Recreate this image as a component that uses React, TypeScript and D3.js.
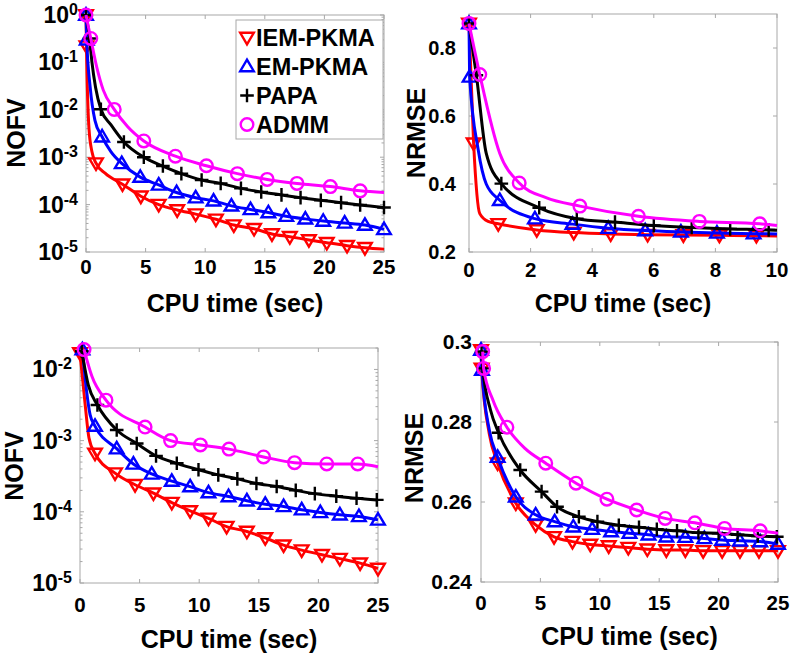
import * as d3 from 'd3'

type Pt = [number, number, number] // [cpu time, value, 1 = marker shown]

const NAMES = ['IEM-PKMA', 'EM-PKMA', 'PAPA', 'ADMM']
const COLORS = ['#ff0000', '#0000ff', '#000000', '#ff00ff']
const SHAPES = ['down', 'up', 'plus', 'circle']

// top-left: NOFV (log) vs CPU time
const nofvA_iem: Pt[] = [[0, 1, 1], [0.04, 0.22, 1], [0.25, 4e-3, 0], [0.5, 1.3e-3, 0], [0.84, 7.5e-4, 1], [1.6, 4.6e-4, 0], [3.06, 2.7e-4, 1], [4.6, 1.5e-4, 1], [6.1, 1.0e-4, 1], [7.65, 7.7e-5, 1], [9.2, 6.3e-5, 1], [10.9, 4.9e-5, 1], [12.4, 3.7e-5, 1], [14.1, 3.1e-5, 1], [15.6, 2.4e-5, 1], [17.1, 2.1e-5, 1], [18.7, 1.8e-5, 1], [20.2, 1.57e-5, 1], [21.9, 1.36e-5, 1], [23.4, 1.23e-5, 1], [25, 1.15e-5, 0]]
const nofvA_em: Pt[] = [[0, 1, 1], [0.06, 0.3, 1], [0.35, 0.03, 0], [0.75, 6e-3, 0], [1.35, 2.7e-3, 1], [2.1, 1.3e-3, 0], [3.0, 7.4e-4, 1], [4.55, 3.8e-4, 1], [6.1, 2.6e-4, 1], [7.6, 1.8e-4, 1], [9.2, 1.4e-4, 1], [10.7, 1.2e-4, 1], [12.2, 9.4e-5, 1], [13.8, 7.9e-5, 1], [15.3, 6.8e-5, 1], [16.8, 5.7e-5, 1], [18.4, 5.0e-5, 1], [19.9, 4.5e-5, 1], [21.7, 4.1e-5, 1], [23.4, 3.7e-5, 1], [25, 3.0e-5, 1]]
const nofvA_papa: Pt[] = [[0, 1, 1], [0.3, 0.32, 1], [0.5, 0.1, 0], [0.8, 0.03, 0], [1.25, 1.03e-2, 1], [2.1, 4.8e-3, 0], [3.18, 2.1e-3, 1], [4.85, 1.0e-3, 1], [6.45, 6.5e-4, 1], [8.0, 4.5e-4, 1], [9.7, 3.3e-4, 1], [11.3, 2.8e-4, 1], [13.0, 2.2e-4, 1], [14.7, 1.85e-4, 1], [16.4, 1.6e-4, 1], [18.0, 1.4e-4, 1], [19.7, 1.23e-4, 1], [21.4, 1.1e-4, 1], [23.0, 9.8e-5, 1], [25, 8.7e-5, 1]]
const nofvA_admm: Pt[] = [[0, 1, 1], [0.4, 0.32, 1], [0.9, 0.08, 0], [1.45, 0.026, 0], [2.37, 1.02e-2, 1], [3.5, 4.4e-3, 0], [4.85, 2.2e-3, 1], [7.5, 1.05e-3, 1], [10.1, 6.6e-4, 1], [12.7, 4.5e-4, 1], [15.2, 3.4e-4, 1], [17.7, 2.8e-4, 1], [20.5, 2.4e-4, 1], [23.0, 1.95e-4, 1], [25, 1.8e-4, 0]]

// top-right: NRMSE vs CPU time
const rmseB_iem: Pt[] = [[0, 0.872, 1], [0.15, 0.52, 1], [0.35, 0.313, 0], [0.62, 0.29, 0], [0.95, 0.283, 1], [2.2, 0.265, 1], [3.4, 0.257, 1], [4.6, 0.253, 1], [5.8, 0.251, 1], [6.96, 0.25, 1], [8.13, 0.249, 1], [9.33, 0.248, 1], [10, 0.247, 0]]
const rmseB_em: Pt[] = [[0, 0.872, 1], [0.02, 0.715, 1], [0.3, 0.5, 0], [0.56, 0.4, 0], [1.0, 0.352, 1], [2.14, 0.298, 1], [3.36, 0.282, 1], [4.52, 0.27, 1], [5.72, 0.263, 1], [6.88, 0.259, 1], [8.05, 0.256, 1], [9.24, 0.254, 1], [10, 0.253, 0]]
const rmseB_papa: Pt[] = [[0, 0.872, 1], [0.24, 0.72, 1], [0.56, 0.49, 0], [1.05, 0.401, 1], [2.28, 0.33, 1], [3.5, 0.298, 1], [4.74, 0.288, 1], [6.0, 0.278, 1], [7.23, 0.272, 1], [8.48, 0.268, 1], [9.73, 0.265, 1], [10, 0.264, 0]]
const rmseB_admm: Pt[] = [[0, 0.872, 1], [0.35, 0.722, 1], [1.0, 0.49, 0], [1.63, 0.403, 1], [2.5, 0.36, 0], [3.6, 0.335, 1], [5.5, 0.305, 1], [7.48, 0.29, 1], [9.44, 0.283, 1], [10, 0.278, 0]]

// bottom-left: NOFV (log) vs CPU time
const nofvC_iem: Pt[] = [[0, 0.017, 1], [0.45, 3e-3, 0], [0.75, 1.1e-3, 0], [1.26, 6.6e-4, 1], [2.94, 3.5e-4, 1], [4.62, 2.4e-4, 1], [6.16, 1.83e-4, 1], [7.7, 1.35e-4, 1], [9.24, 1.03e-4, 1], [10.78, 8.1e-5, 1], [12.3, 6.2e-5, 1], [14.0, 5.3e-5, 1], [15.54, 4.3e-5, 1], [17.08, 3.4e-5, 1], [18.6, 2.9e-5, 1], [20.3, 2.5e-5, 1], [21.8, 2.2e-5, 1], [23.5, 1.9e-5, 1], [25, 1.6e-5, 1]]
const nofvC_em: Pt[] = [[0.2, 0.019, 1], [0.55, 5e-3, 0], [0.85, 2.3e-3, 0], [1.26, 1.6e-3, 1], [3.08, 7.7e-4, 1], [4.48, 4.7e-4, 1], [6.02, 3.4e-4, 1], [7.7, 2.7e-4, 1], [9.24, 2.26e-4, 1], [10.78, 1.86e-4, 1], [12.46, 1.64e-4, 1], [14.0, 1.43e-4, 1], [15.54, 1.28e-4, 1], [17.08, 1.19e-4, 1], [18.6, 1.07e-4, 1], [20.16, 9.8e-5, 1], [21.8, 9.1e-5, 1], [23.4, 8.6e-5, 1], [25, 7.7e-5, 1]]
const nofvC_papa: Pt[] = [[0.15, 0.018, 1], [0.7, 6e-3, 0], [1.46, 3.16e-3, 1], [3.08, 1.41e-3, 1], [4.76, 9.1e-4, 1], [6.38, 6.1e-4, 1], [8.12, 4.8e-4, 1], [9.94, 3.9e-4, 1], [11.6, 3.3e-4, 1], [13.2, 2.9e-4, 1], [14.8, 2.5e-4, 1], [16.5, 2.27e-4, 1], [18.1, 2.0e-4, 1], [19.7, 1.8e-4, 1], [21.5, 1.66e-4, 1], [23.2, 1.55e-4, 1], [24.9, 1.47e-4, 1]]
const nofvC_admm: Pt[] = [[0.34, 0.019, 1], [1.0, 8e-3, 0], [2.18, 3.7e-3, 1], [5.46, 1.55e-3, 1], [7.6, 1.0e-3, 1], [10.1, 8.7e-4, 1], [12.5, 7.6e-4, 1], [15.4, 5.9e-4, 1], [18.0, 4.9e-4, 1], [20.7, 4.7e-4, 1], [23.3, 4.7e-4, 1], [25, 4.3e-4, 0]]

// bottom-right: NRMSE vs CPU time
const rmseD_iem: Pt[] = [[0, 0.298, 1], [0.05, 0.2934, 1], [0.7, 0.277, 0], [1.4, 0.2697, 1], [2.93, 0.2597, 1], [4.6, 0.2543, 1], [6.15, 0.2513, 1], [7.7, 0.2501, 1], [9.2, 0.2494, 1], [10.75, 0.249, 1], [12.4, 0.2486, 1], [14.0, 0.2482, 1], [15.6, 0.248, 1], [17.2, 0.248, 1], [18.7, 0.2478, 1], [20.3, 0.2478, 1], [21.8, 0.2478, 1], [23.4, 0.2478, 1], [25, 0.2478, 1]]
const rmseD_em: Pt[] = [[0, 0.298, 1], [0.08, 0.293, 1], [0.7, 0.278, 0], [1.4, 0.2712, 1], [2.93, 0.2613, 1], [4.6, 0.2568, 1], [6.2, 0.2551, 1], [7.77, 0.2538, 1], [9.36, 0.2532, 1], [10.95, 0.2526, 1], [12.5, 0.2522, 1], [14.1, 0.2518, 1], [15.6, 0.2513, 1], [17.2, 0.2512, 1], [18.8, 0.2509, 1], [20.3, 0.2505, 1], [21.8, 0.2503, 1], [23.5, 0.2501, 1], [25, 0.2495, 1]]
const rmseD_papa: Pt[] = [[0.05, 0.2976, 1], [0.15, 0.2934, 1], [0.8, 0.283, 0], [1.48, 0.2773, 1], [3.3, 0.268, 1], [5.1, 0.2626, 1], [6.4, 0.2588, 1], [8.24, 0.2563, 1], [9.8, 0.2551, 1], [11.6, 0.2542, 1], [13.3, 0.2537, 1], [14.8, 0.2532, 1], [16.5, 0.2528, 1], [18.3, 0.2523, 1], [20.0, 0.2522, 1], [21.6, 0.2518, 1], [23.3, 0.2515, 1], [24.9, 0.2513, 1]]
const rmseD_admm: Pt[] = [[0.14, 0.2976, 1], [0.22, 0.2934, 1], [1.0, 0.2855, 0], [2.18, 0.2787, 1], [3.7, 0.2734, 0], [5.45, 0.2697, 1], [8.0, 0.2647, 1], [10.6, 0.2607, 1], [13.1, 0.258, 1], [15.5, 0.2559, 1], [18.0, 0.2548, 1], [20.5, 0.2534, 1], [23.5, 0.2528, 1], [25, 0.2522, 0]]

const TICKS_X25 = [0, 5, 10, 15, 20, 25]
const TICKS_X10 = [0, 2, 4, 6, 8, 10]
const TICKS_LOG_A = [1e-5, 1e-4, 1e-3, 1e-2, 1e-1, 1]
const TICKS_LOG_C = [1e-5, 1e-4, 1e-3, 1e-2]
const TICKS_RMSE_B = [0.2, 0.4, 0.6, 0.8]
const TICKS_RMSE_D = [0.24, 0.26, 0.28, 0.3]

const FONT = '"Liberation Sans", Arial, Helvetica, sans-serif'
const AXIS_GRAY = '#a8a8a8'

const PANELS = [
  { series: [nofvA_iem, nofvA_em, nofvA_papa, nofvA_admm], log: true, xDom: [0, 25], yDom: [1e-5, 1], xTicks: TICKS_X25, yTicks: TICKS_LOG_A, ylab: 'NOFV',
    box: { l: 86, r: 384, t: 15, b: 252 }, tickDy: 22, titleY: 312, ylabX: 25, ylabY: 133, yGap: 8, yFont: 20, legend: true },
  { series: [rmseB_iem, rmseB_em, rmseB_papa, rmseB_admm], log: false, xDom: [0, 10], yDom: [0.2, 0.9], xTicks: TICKS_X10, yTicks: TICKS_RMSE_B, ylab: 'NRMSE',
    box: { l: 469, r: 777, t: 14, b: 252 }, tickDy: 25, titleY: 312, ylabX: 425, ylabY: 133, yGap: 13, yFont: 20, legend: false },
  { series: [nofvC_iem, nofvC_em, nofvC_papa, nofvC_admm], log: true, xDom: [0, 25], yDom: [1e-5, 2e-2], xTicks: TICKS_X25, yTicks: TICKS_LOG_C, ylab: 'NOFV',
    box: { l: 80, r: 378, t: 348, b: 583 }, tickDy: 29, titleY: 648, ylabX: 23, ylabY: 466, yGap: 8, yFont: 20, legend: false },
  { series: [rmseD_iem, rmseD_em, rmseD_papa, rmseD_admm], log: false, xDom: [0, 25], yDom: [0.24, 0.3], xTicks: TICKS_X25, yTicks: TICKS_RMSE_D, ylab: 'NRMSE',
    box: { l: 481, r: 778, t: 342, b: 582 }, tickDy: 28, titleY: 645, ylabX: 423, ylabY: 458, yGap: 9, yFont: 21, legend: false },
]

function Marker({ shape, x, y, color }: { shape: string; x: number; y: number; color: string }) {
  if (shape === 'circle') return <circle cx={x} cy={y} r={6.3} fill="none" stroke={color} strokeWidth={2.4} />
  const d =
    shape === 'down' ? 'M-6.8,-4.7L6.8,-4.7L0,6.8Z' : shape === 'up' ? 'M-6.8,4.7L6.8,4.7L0,-6.8Z' : 'M-6.8,0H6.8M0,-6.8V6.8'
  return <path transform={`translate(${x},${y})`} d={d} fill="none" stroke={color} strokeWidth={2.4} />
}

function Panel({ p }: { p: (typeof PANELS)[number] }) {
  const { box } = p
  const x = d3.scaleLinear().domain(p.xDom).range([box.l, box.r])
  const y = p.log
    ? d3.scaleLog().domain(p.yDom).range([box.b, box.t])
    : d3.scaleLinear().domain(p.yDom).range([box.b, box.t])
  const line = d3
    .line<Pt>()
    .x((d) => x(d[0]))
    .y((d) => y(d[1]))
    .curve(d3.curveMonotoneX)

  // minor ticks on log axes
  const minors: number[] = []
  if (p.log) {
    const lo = Math.round(Math.log10(p.yDom[0]))
    for (let e = lo; e < 0; e++) for (let k = 2; k <= 9; k++) {
      const v = k * Math.pow(10, e)
      if (v <= p.yDom[1]) minors.push(v)
    }
  }

  return (
    <g fontFamily={FONT} fontWeight="bold">
      <rect x={box.l} y={box.t} width={box.r - box.l} height={box.b - box.t} fill="#fff" stroke={AXIS_GRAY} strokeWidth={1} />
      {p.xTicks.map((t) => (
        <g key={`x${t}`}>
          <line x1={x(t)} x2={x(t)} y1={box.b} y2={box.b - 4} stroke={AXIS_GRAY} />
          <line x1={x(t)} x2={x(t)} y1={box.t} y2={box.t + 4} stroke={AXIS_GRAY} />
          <text x={x(t)} y={box.b + p.tickDy} textAnchor="middle" fontSize={20.5}>{t}</text>
        </g>
      ))}
      {minors.map((v) => (
        <g key={`m${v}`}>
          <line x1={box.l} x2={box.l + 2.5} y1={y(v)} y2={y(v)} stroke={AXIS_GRAY} />
          <line x1={box.r} x2={box.r - 2.5} y1={y(v)} y2={y(v)} stroke={AXIS_GRAY} />
        </g>
      ))}
      {p.yTicks.map((t) => (
        <g key={`y${t}`}>
          <line x1={box.l} x2={box.l + 4} y1={y(t)} y2={y(t)} stroke={AXIS_GRAY} />
          <line x1={box.r} x2={box.r - 4} y1={y(t)} y2={y(t)} stroke={AXIS_GRAY} />
          {p.log ? (
            <text x={box.l - p.yGap} y={y(t) + 8} textAnchor="end" fontSize={23}>
              10<tspan dy={-8} fontSize={16}>{String(Math.round(Math.log10(t)))}</tspan>
            </text>
          ) : (
            <text x={box.l - p.yGap} y={y(t) + 7} textAnchor="end" fontSize={p.yFont}>{String(+t.toFixed(2))}</text>
          )}
        </g>
      ))}
      {p.series.map((s, i) => (
        <g key={NAMES[i]}>
          <path d={line(s) ?? ''} fill="none" stroke={COLORS[i]} strokeWidth={3} strokeLinejoin="round" />
          {s.filter((d) => d[2]).map((d, j) => (
            <Marker key={j} shape={SHAPES[i]} x={x(d[0])} y={y(d[1])} color={COLORS[i]} />
          ))}
        </g>
      ))}
      <text x={(box.l + box.r) / 2} y={p.titleY} textAnchor="middle" fontSize={25}>CPU time (sec)</text>
      <text transform={`translate(${p.ylabX},${p.ylabY}) rotate(-90)`} textAnchor="middle" fontSize={25}>{p.ylab}</text>
      {p.legend && (
        <g>
          <rect x={236} y={20} width={147} height={119} fill="#fff" stroke={AXIS_GRAY} strokeWidth={1} />
          {NAMES.map((n, i) => (
            <g key={n}>
              <Marker shape={SHAPES[i]} x={247} y={37.5 + i * 29} color={COLORS[i]} />
              <text x={256} y={37.5 + i * 29 + 8} fontSize={23.5}>{n}</text>
            </g>
          ))}
        </g>
      )}
    </g>
  )
}

export default function App() {
  return (
    <svg width={795} height={655} viewBox="0 0 795 655" style={{ position: 'absolute', left: 0, top: 0, background: '#fff' }}>
      <rect width={795} height={655} fill="#fff" />
      {PANELS.map((p, i) => (
        <Panel key={i} p={p} />
      ))}
    </svg>
  )
}
